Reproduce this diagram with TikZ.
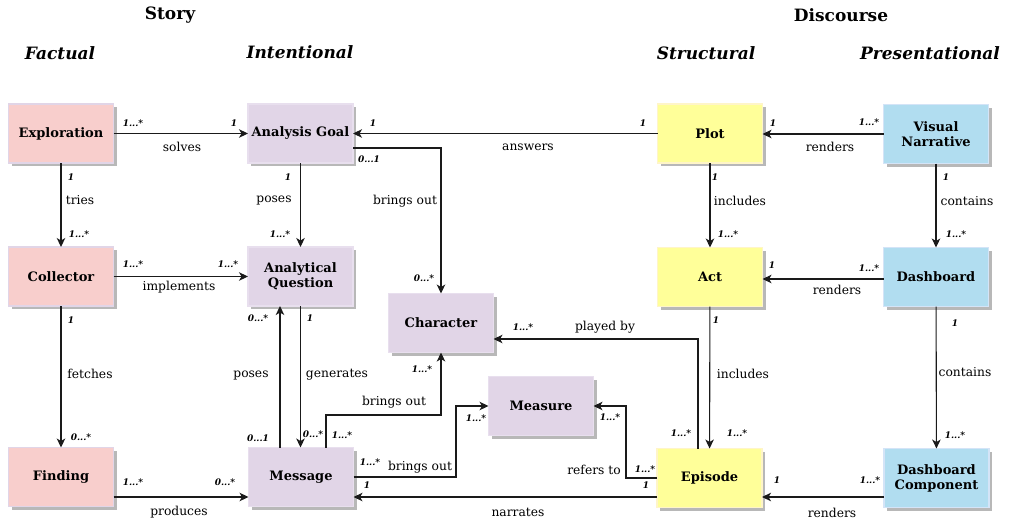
\documentclass[tikz,border=0pt]{standalone}
\usepackage{fontspec}
\setmainfont{DejaVu Serif}
\usetikzlibrary{arrows.meta,shadows}
\definecolor{pinkf}{HTML}{F8CECC}
\definecolor{purpf}{HTML}{E1D5E7}
\definecolor{yellf}{HTML}{FFFF99}
\definecolor{bluef}{HTML}{B1DDF0}
\definecolor{pinkd}{HTML}{E1D5E7}
\definecolor{purpd}{HTML}{E8DFEE}
\definecolor{yelld}{HTML}{FFF5C8}
\definecolor{blued}{HTML}{D4E4F7}
\definecolor{linec}{HTML}{1A1A1A}
\tikzset{
  box/.style={minimum width=105pt, minimum height=59pt, inner sep=0pt, outer sep=0pt,
    line width=1.5pt, align=center, font=\fontsize{13}{15}\selectfont\bfseries,
    drop shadow={shadow xshift=3pt, shadow yshift=-3pt, fill=black!28, opacity=1}},
  pinkbox/.style={box, fill=pinkf, draw=pinkd},
  purpbox/.style={box, fill=purpf, draw=purpd},
  yellbox/.style={box, fill=yellf, draw=yelld},
  bluebox/.style={box, fill=bluef, draw=blued},
  arr/.style={draw=linec, line width=1.1pt, -{Stealth[length=9pt,width=8.5pt,inset=2.5pt]}},
  mult/.style={inner sep=0pt, font=\fontsize{9}{9}\selectfont\bfseries\itshape},
  lab/.style={inner sep=0pt, font=\fontsize{12.3}{13}\selectfont},
  head/.style={inner sep=0pt, font=\fontsize{17}{18}\selectfont\bfseries},
  subhead/.style={inner sep=0pt, font=\fontsize{17}{18}\selectfont\bfseries\itshape}
}
\begin{document}
\begin{tikzpicture}[x=1pt,y=-1pt]
\useasboundingbox (0,0) rectangle (1011,522);
% headers
\node[head] (hstory) at (170,15) {Story};
\node[head] (hdisc) at (841,15) {Discourse};
\node[subhead] (hfact) at (60,53) {Factual};
\node[subhead] (hint) at (300,52) {Intentional};
\node[subhead] (hstr) at (706,53) {Structural};
\node[subhead] (hpres) at (930,53) {Presentational};
% boxes
\node[pinkbox] (expl) at (61,133.5) {Exploration};
\node[purpbox] (goal) at (300.5,133.5) {Analysis Goal};
\node[pinkbox] (coll) at (61,276.5) {Collector};
\node[purpbox] (aq) at (300.5,276.5) {Analytical\\Question};
\node[purpbox] (char) at (441,323) {Character};
\node[purpbox] (meas) at (541,406) {Measure};
\node[purpbox] (msg) at (301,477) {Message};
\node[pinkbox] (find) at (61,477) {Finding};
\node[yellbox] (plot) at (710,133.5) {Plot};
\node[bluebox] (vn) at (936,134) {Visual\\Narrative};
\node[yellbox] (act) at (710,277) {Act};
\node[bluebox] (dash) at (936,277) {Dashboard};
\node[yellbox] (epi) at (709.5,478) {Episode};
\node[bluebox] (dc) at (936.5,478) {Dashboard\\Component};
% helper coordinates
\coordinate (bm) at (456,0);
\coordinate (rm) at (626,0);
\coordinate (mc) at (0,415);
% connectors
\draw[arr] (expl) -- (goal);
\draw[arr] (expl) -- (coll);
\draw[arr] (coll) -- (aq);
\draw[arr] (coll) -- (find);
\draw[arr] ([yshift=-20pt]find.east) -- ([yshift=-20pt]find.east -| msg.west);
\draw[arr] (goal) -- (aq);
\draw[arr] (plot) -- (goal);
\draw[arr] ([yshift=-14.5pt]goal.east) -| (char.north);
\draw[arr] ([xshift=-21pt]msg.north) -- ([xshift=-21pt]msg.north |- aq.south);
\draw[arr] (aq.south) -- (aq.south |- msg.north);
\draw[arr] ([xshift=25pt]msg.north) -- ([xshift=25pt]msg.north |- mc) -| (char.south);
\draw[arr] (msg.east) -- (msg.east -| bm) |- (meas.west);
\draw[arr] (epi.west) -- (epi.west -| rm) |- (meas.east);
\draw[arr] ([yshift=-19pt]epi.west) -- ([yshift=-19pt]epi.west -| msg.east);
\draw[arr] ([xshift=-11.5pt]epi.north) |- ([yshift=-16pt]char.east);
\draw[arr] (plot) -- (act);
\draw[arr] (act) -- (epi);
\draw[arr] (vn) -- (vn -| plot.east);
\draw[arr] (vn) -- (dash);
\draw[arr] ([yshift=-2pt]dash.west) -- ([yshift=-2pt]dash.west -| act.east);
\draw[arr] (dash) -- (dc);
\draw[arr] ([yshift=-19pt]dc.west) -- ([yshift=-19pt]dc.west -| epi.east);
% labels: Exploration - Analysis Goal
\node[mult] (m1a) at (133,123) {1...*};
\node[mult] (m1b) at (234,123) {1};
\node[lab] (l1) at (182,147) {solves};
% tries
\node[mult] (m2a) at (71,177) {1};
\node[lab] (l2) at (80,200) {tries};
\node[mult] (m2b) at (79,234) {1...*};
% implements
\node[mult] (m3a) at (133,264) {1...*};
\node[mult] (m3b) at (228,264) {1...*};
\node[lab] (l3) at (179,287) {implements};
% fetches
\node[mult] (m4a) at (71,320) {1};
\node[lab] (l4) at (90,374) {fetches};
\node[mult] (m4b) at (81,437) {0...*};
% produces
\node[mult] (m5a) at (133,482) {1...*};
\node[mult] (m5b) at (225,482) {0...*};
\node[lab] (l5) at (179,512) {produces};
% poses (goal -> aq)
\node[mult] (m6a) at (288,177) {1};
\node[lab] (l6) at (274,200) {poses};
\node[mult] (m6b) at (280,234) {1...*};
% answers
\node[mult] (m7a) at (373,123) {1};
\node[mult] (m7b) at (643,123) {1};
\node[lab] (l7) at (528,147) {answers};
% brings out (goal -> char)
\node[mult] (m8a) at (369,159) {0...1};
\node[lab] (l8) at (405,201) {brings out};
\node[mult] (m8b) at (424,278) {0...*};
% poses (msg -> aq)
\node[mult] (m9a) at (258,318) {0...*};
\node[lab] (l9) at (251,375) {poses};
\node[mult] (m9b) at (258,438) {0...1};
% generates
\node[mult] (m10a) at (310,318) {1};
\node[lab] (l10) at (337,375) {generates};
\node[mult] (m10b) at (313,434) {0...*};
% brings out (msg -> char)
\node[mult] (m11a) at (342,435) {1...*};
\node[lab] (l11) at (394,402) {brings out};
\node[mult] (m11b) at (422,369) {1...*};
% brings out (msg -> meas)
\node[mult] (m12a) at (370,462) {1...*};
\node[lab] (l12) at (420,467) {brings out};
\node[mult] (m12b) at (476,418) {1...*};
% refers to
\node[lab] (l13) at (594,470) {refers to};
\node[mult] (m13a) at (645,469) {1...*};
\node[mult] (m13b) at (610,417) {1...*};
% narrates
\node[mult] (m14a) at (646,485) {1};
\node[mult] (m14b) at (367,485) {1};
\node[lab] (l14) at (518,512) {narrates};
% played by
\node[mult] (m15a) at (523,327) {1...*};
\node[lab] (l15) at (605,327) {played by};
\node[mult] (m15b) at (681,433) {1...*};
% includes (plot -> act)
\node[mult] (m16a) at (715,177) {1};
\node[lab] (l16) at (740,201) {includes};
\node[mult] (m16b) at (728,234) {1...*};
% includes (act -> epi)
\node[mult] (m17a) at (716,320) {1};
\node[lab] (l17) at (743,374) {includes};
\node[mult] (m17b) at (737,433) {1...*};
% renders (vn -> plot)
\node[mult] (m18a) at (773,123) {1};
\node[mult] (m18b) at (869,122) {1...*};
\node[lab] (l18) at (830,147) {renders};
% contains (vn -> dash)
\node[mult] (m19a) at (946,177) {1};
\node[lab] (l19) at (967,201) {contains};
\node[mult] (m19b) at (956,234) {1...*};
% renders (dash -> act)
\node[mult] (m20a) at (772,265) {1};
\node[mult] (m20b) at (869,268) {1...*};
\node[lab] (l20) at (837,290) {renders};
% contains (dash -> dc)
\node[mult] (m21a) at (955,323) {1};
\node[lab] (l21) at (965,372) {contains};
\node[mult] (m21b) at (955,435) {1...*};
% renders (dc -> epi)
\node[mult] (m22a) at (777,480) {1};
\node[mult] (m22b) at (870,480) {1...*};
\node[lab] (l22) at (832,513) {renders};
\end{tikzpicture}
\end{document}
